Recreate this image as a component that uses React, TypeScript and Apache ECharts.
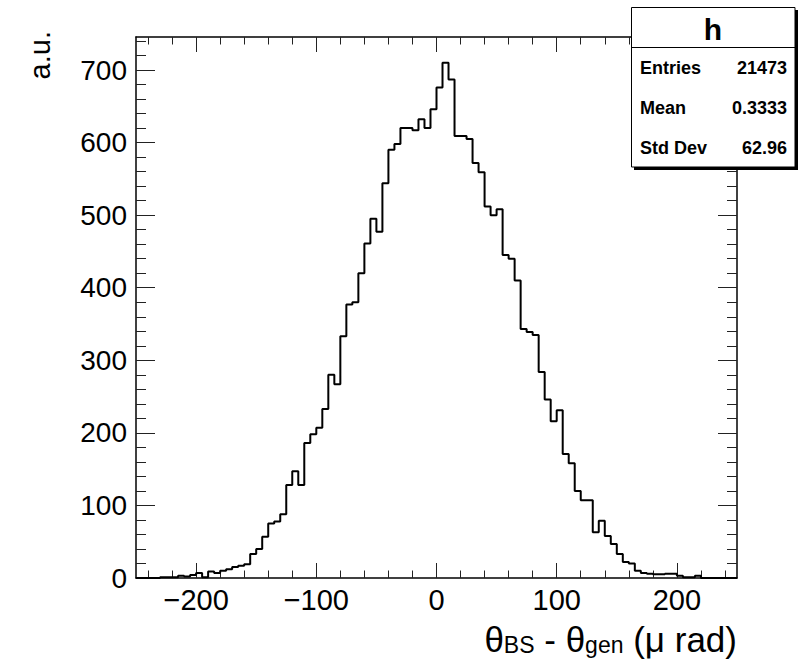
import React, { useEffect, useRef } from "react";
import * as echarts from "echarts";

// Histogram binning
const binMin = -250;
const binMax = 250;
const binWidth = 5;

// Bin contents (100 bins of width 5 from -250 to 250)
const counts = [
  0, 0, 0, 0, 1, 1, 1, 3, 2, 4,
  7, 1, 9, 7, 10, 12, 15, 17, 19, 33,
  40, 57, 75, 78, 88, 128, 147, 128, 186, 198,
  207, 233, 280, 267, 333, 377, 380, 420, 461, 495,
  477, 544, 590, 598, 620, 620, 617, 632, 620, 646,
  676, 710, 687, 609, 609, 605, 572, 559, 512, 500,
  508, 445, 440, 410, 343, 339, 335, 284, 246, 216,
  231, 171, 158, 120, 107, 107, 63, 79, 58, 47,
  33, 22, 20, 10, 7, 6, 5, 5, 6, 6,
  3, 1, 1, 3, 0, 0, 0, 0, 0, 0,
];

const yMax = 745.5;
const xMajorTicks = [-200, -100, 0, 100, 200];
const xMinorTicks = [
  -240, -220, -180, -160, -140, -120, -80, -60, -40, -20,
  20, 40, 60, 80, 120, 140, 160, 180, 220, 240,
];
const yMajorTicks = [0, 100, 200, 300, 400, 500, 600, 700];
const yMinorTicks = [
  20, 40, 60, 80, 120, 140, 160, 180, 220, 240, 260, 280,
  320, 340, 360, 380, 420, 440, 460, 480, 520, 540, 560, 580,
  620, 640, 660, 680, 720, 740,
];

const statsTitle = "h";
const statsLabels = ["Entries", "Mean", "Std Dev"];
const statsValues = ["21473", "0.3333", "62.96"];

const FONT = "'Liberation Sans', Arial, Helvetica, sans-serif";

export default function App() {
  const ref = useRef<HTMLDivElement>(null);

  useEffect(() => {
    if (!ref.current) return;
    document.body.style.margin = "0";
    const chart = echarts.init(ref.current, undefined, { renderer: "svg" });

    const histData: [number, number][] = counts.map((c, i) => [binMin + i * binWidth, c]);
    histData.push([binMax, counts[counts.length - 1]]);

    const tickLine = { color: "#222", width: 1 };
    const frameLine = { color: "#000", width: 1.5 };
    const fmtX = (v: number) => (v < 0 ? "\u2212" + Math.abs(v) : String(v));

    const mkX = (position: string, major: boolean, labels: boolean) => ({
      type: "value",
      position,
      min: binMin,
      max: binMax,
      axisLine: { show: major, onZero: false, lineStyle: frameLine },
      axisTick: {
        show: true,
        inside: true,
        length: major ? 15 : 7.5,
        customValues: major ? xMajorTicks : xMinorTicks,
        lineStyle: tickLine,
      },
      axisLabel: labels
        ? {
            show: true,
            customValues: xMajorTicks,
            margin: 10,
            fontSize: 29,
            lineHeight: 24,
            fontFamily: FONT,
            color: "#000",
            formatter: fmtX,
          }
        : { show: false },
      splitLine: { show: false },
    });

    const mkY = (position: string, major: boolean, labels: boolean) => ({
      type: "value",
      position,
      min: 0,
      max: yMax,
      axisLine: { show: major, onZero: false, lineStyle: frameLine },
      axisTick: {
        show: true,
        inside: true,
        length: major ? 19 : 10,
        customValues: major ? yMajorTicks : yMinorTicks,
        lineStyle: tickLine,
      },
      axisLabel: labels
        ? {
            show: true,
            customValues: yMajorTicks,
            margin: 9,
            fontSize: 28,
            fontFamily: FONT,
            color: "#000",
          }
        : { show: false },
      splitLine: { show: false },
    });

    const statsRowY = [68, 108, 148];

    chart.setOption({
      animation: false,
      backgroundColor: "#fff",
      grid: { left: 136, right: 70, top: 37, bottom: 85, show: false },
      xAxis: [
        mkX("bottom", true, true),
        mkX("bottom", false, false),
        mkX("top", true, false),
        mkX("top", false, false),
      ],
      yAxis: [
        mkY("left", true, true),
        mkY("left", false, false),
        mkY("right", true, false),
        mkY("right", false, false),
      ],
      series: [
        {
          type: "line",
          xAxisIndex: 0,
          yAxisIndex: 0,
          step: "end",
          data: histData,
          showSymbol: false,
          symbol: "none",
          lineStyle: { color: "#000", width: 2 },
          silent: true,
          z: 3,
        },
      ],
      graphic: [
        {
          type: "text",
          x: 54,
          y: 31,
          rotation: Math.PI / 2,
          style: {
            text: "a.u.",
            font: `29px ${FONT}`,
            fill: "#000",
            align: "right",
            verticalAlign: "bottom",
          },
        },
        {
          type: "text",
          right: 70,
          top: 622,
          style: {
            text: "{t|θ}{s|BS}{t| - θ}{s|gen}{t| (μ rad)}",
            fill: "#000",
            rich: {
              t: { fontSize: 35, fontFamily: FONT, lineHeight: 34, fill: "#000" },
              s: {
                fontSize: 23,
                fontFamily: FONT,
                lineHeight: 18,
                verticalAlign: "bottom",
                fill: "#000",
              },
            },
          },
        },
        {
          type: "rect",
          shape: { x: 634, y: 10, width: 164, height: 160 },
          style: { fill: "#000" },
          z: 10,
        },
        {
          type: "rect",
          shape: { x: 631.5, y: 7.5, width: 163.5, height: 159.5 },
          style: { fill: "#fff", stroke: "#000", lineWidth: 1 },
          z: 11,
        },
        {
          type: "line",
          shape: { x1: 631.5, y1: 47.5, x2: 795, y2: 47.5 },
          style: { stroke: "#000", lineWidth: 1 },
          z: 12,
        },
        {
          type: "text",
          x: 713,
          y: 29,
          z: 12,
          style: {
            text: statsTitle,
            font: `bold 30px ${FONT}`,
            fill: "#000",
            align: "center",
            verticalAlign: "middle",
          },
        },
        ...statsLabels.map((lab, i) => ({
          type: "text",
          x: 640,
          y: statsRowY[i],
          z: 12,
          style: {
            text: lab,
            font: `bold 18px ${FONT}`,
            fill: "#000",
            align: "left",
            verticalAlign: "middle",
          },
        })),
        ...statsValues.map((val, i) => ({
          type: "text",
          x: 787,
          y: statsRowY[i],
          z: 12,
          style: {
            text: val,
            font: `bold 18px ${FONT}`,
            fill: "#000",
            align: "right",
            verticalAlign: "middle",
          },
        })),
      ],
    });

    return () => chart.dispose();
  }, []);

  return <div ref={ref} style={{ width: 807, height: 663 }} />;
}
